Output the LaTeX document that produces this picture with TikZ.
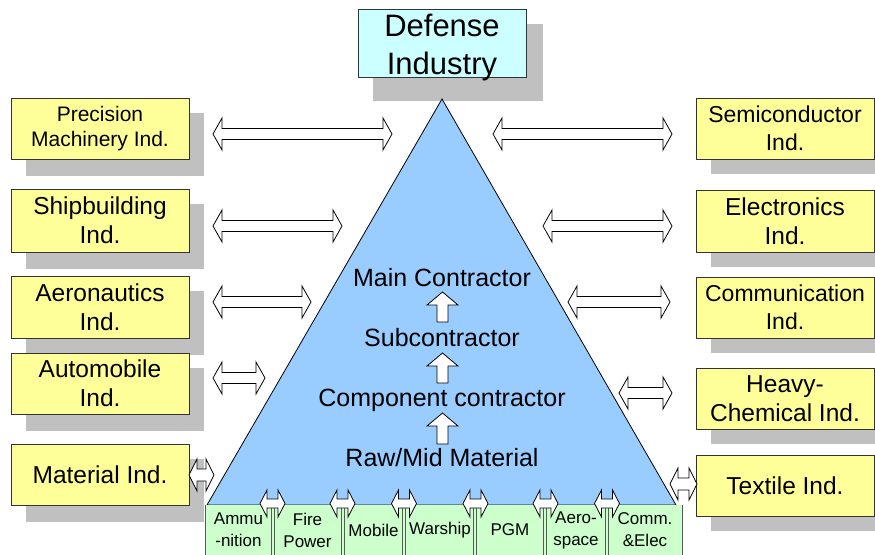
\documentclass[tikz,border=0pt]{standalone}
\usepackage{fontspec}
\setmainfont{Liberation Sans}
\definecolor{yfill}{HTML}{FFFF99}
\definecolor{shd}{HTML}{C0C0C0}
\definecolor{tri}{HTML}{99CCFF}
\definecolor{cyanfill}{HTML}{CCFFFF}
\definecolor{gfill}{HTML}{CCFFCC}
\newcommand\fs[2]{\fontsize{#1}{#2}\selectfont}
\newcommand\hdarr[6]{\draw[dblarr] (#1,#3) -- (#1+#4,#3-#5) -- (#1+#4,#3-#6) -- (#2-#4,#3-#6) -- (#2-#4,#3-#5) -- (#2,#3) -- (#2-#4,#3+#5) -- (#2-#4,#3+#6) -- (#1+#4,#3+#6) -- (#1+#4,#3+#5) -- cycle;}
\newcommand\uparr[3]{\draw[dblarr] (#1,#2) -- (#1+15.5,#2+13) -- (#1+5.5,#2+13) -- (#1+5.5,#3) -- (#1-5.5,#3) -- (#1-5.5,#2+13) -- (#1-15.5,#2+13) -- cycle;}
\begin{document}
\begin{tikzpicture}[x=1pt,y=-1pt,
  ybox/.style={draw=black!80, fill=yfill, line width=0.8pt, align=center, inner sep=0pt, minimum width=178pt, minimum height=61pt},
  shadowbox/.style={fill=shd},
  dblarr/.style={draw=black, fill=white, line width=0.8pt, line join=miter},
  gtext/.style={align=center, inner sep=0pt, font=\fs{17}{22}},
  ttext/.style={inner sep=0pt, font=\fs{25}{29}}]
\useasboundingbox (0,0) rectangle (875,554);
\clip (0,0) rectangle (875,554);
% shadows
\fill[shadowbox] (373,24) rectangle (543,101);
\foreach \ya/\yb in {98/159,189/252,276/338,353/414,444/505}{
  \fill[shadowbox] (26,\ya+15) rectangle (204,\yb+17);}
\foreach \ya/\yb in {98/159,190/252,277/338,368/429,455/516}{
  \fill[shadowbox] (711,\ya+15) rectangle (889,\yb+15);}
% top box
\node[draw=black!80, fill=cyanfill, line width=0.8pt, inner sep=0pt, minimum width=168pt, minimum height=68pt] (def) at (442,43) {};
\node[align=center, inner sep=0pt, font=\fs{31}{38.5}] (deftext) at (442,47.5) {Defense\\Industry};
% triangle
\coordinate (apex) at (442,99);
\coordinate (bl) at (207,505);
\coordinate (br) at (676,505);
\draw[fill=tri, line width=0.8pt, line join=miter] (apex) -- (br) -- (bl) -- cycle;
% left boxes
\node[ybox, font=\fs{21}{25}] (prec) at (100,128.5) {Precision\\Machinery Ind.};
\node[ybox, minimum height=63pt, font=\fs{24.5}{29}] (ship) at (100,220.5) {Shipbuilding\\Ind.};
\node[ybox, minimum height=62pt, font=\fs{24.5}{29}] (aero) at (100,307) {Aeronautics\\Ind.};
\node[ybox, font=\fs{24.5}{29}] (auto) at (100,383.5) {Automobile\\Ind.};
\node[ybox, font=\fs{24.5}{29}] (mat) at (100,474.5) {Material Ind.};
% right boxes
\node[ybox, font=\fs{23}{28}] (semi) at (785,128.5) {Semiconductor\\Ind.};
\node[ybox, minimum height=62pt, font=\fs{24.5}{29}] (elec) at (785,221) {Electronics\\Ind.};
\node[ybox, font=\fs{23}{28}] (comm) at (785,307.5) {Communication\\Ind.};
\node[ybox, font=\fs{24.5}{29}] (heavy) at (785,398.5) {Heavy-\\Chemical Ind.};
\node[ybox, font=\fs{24.5}{29}] (text) at (785,485.5) {Textile Ind.};
% triangle texts
\node[ttext] (main) at (442,278) {Main Contractor};
\node[ttext] (sub) at (442,338) {Subcontractor};
\node[ttext] (comp) at (442,400) {Component contractor};
\node[ttext] (raw) at (442,458) {Raw/Mid Material};
\uparr{442.5}{292}{322}
\uparr{442.5}{353}{383}
\uparr{442.5}{413}{444}
% green boxes
\fill[gfill] (205,505) rectangle (682,560);
\foreach \b in {272.5,342.5,404,475,545,607}{
  \draw[black!65, line width=0.8pt] (\b-1.5,505) -- (\b-1.5,560);
  \draw[black!65, line width=0.8pt] (\b+1.5,505) -- (\b+1.5,560);}
\draw[black!65, line width=0.8pt] (205,505) -- (205,560);
\draw[black!65, line width=0.8pt] (682,505) -- (682,560);
\node[gtext] (g1) at (238.5,530) {Ammu\\-nition};
\node[gtext] (g2) at (307.5,530) {Fire\\Power};
\node[gtext] (g3) at (373.5,530) {Mobile};
\node[gtext] (g4) at (440,530) {Warship};
\node[gtext] (g5) at (510,530) {PGM};
\node[gtext] (g6) at (576,530) {Aero-\\space};
\node[gtext] (g7) at (645,530) {Comm.\\\&Elec};
% double arrows
\hdarr{213}{392}{134}{9}{16}{5.5}
\hdarr{213}{342}{226}{9}{16}{5.5}
\hdarr{213}{311}{302}{9}{16}{5.5}
\hdarr{213}{265}{378}{9}{16}{5.5}
\hdarr{493}{672}{134}{9}{16}{5.5}
\hdarr{543}{672}{226}{9}{16}{5.5}
\hdarr{568}{670}{302}{9}{16}{5.5}
\hdarr{619}{672}{393}{9}{16}{5.5}
\hdarr{189}{214}{475}{8}{16}{6}
\hdarr{670}{697}{484}{8}{16}{6}
\foreach \c in {272.5,342.5,404,475.5,545.5,607}{
  \hdarr{\c-12.5}{\c+12.5}{503.5}{7}{13.5}{4.5}}
\end{tikzpicture}
\end{document}
